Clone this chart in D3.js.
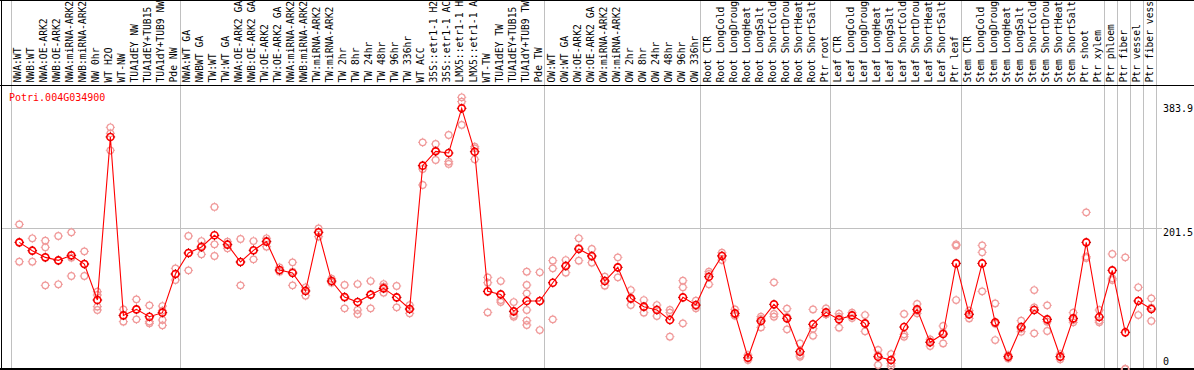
<!DOCTYPE html>
<html><head><meta charset="utf-8">
<script src="https://cdn.jsdelivr.net/npm/d3@7"></script>
<style>
html,body{margin:0;padding:0;background:#fff;overflow:hidden;}
svg{display:block;}
text{font-family:"DejaVu Sans Mono","Liberation Mono",monospace;font-size:10px;}
text.hdr{font-size:9.7px;}
</style></head><body>
<svg id="chart" width="1194" height="370"></svg>
<script>
const geneId = "Potri.004G034900";

// column labels as visible in the reference header (long ones are cut at the top edge there)
const categories = [
"NWA:WT","NWB:WT","NWA:OE-ARK2","NWB:OE-ARK2","NWA:miRNA-ARK2","NWB:miRNA-ARK2","NW 0hr","WT H2O","WT-NW","TUA1dEY NW",
"TUA1dEY+TUB15","TUA1dY+TUB9 NW","Pde NW","NWA:WT GA","NWBWT GA","TW:WT","TW:WT GA","NWA:OE-ARK2 GA","NWB:OE-ARK2 GA","TW:OE-ARK2",
"TW:OE-ARK2 GA","NWA:miRNA-ARK2","NWB:miRNA-ARK2","TW:miRNA-ARK2","TW:miRNA-ARK2","TW 2hr","TW 8hr","TW 24hr","TW 48hr","TW 96hr",
"TW 336hr","WT ACC","35S::etr1-1 H2","35S::etr1-1 AC","LMX5::etr1-1 H","LMX5::etr1-1 A","WT-TW","TUA1dEY TW","TUA1dEY+TUB15","TUA1dY+TUB9 TW",
"Pde TW","OW:WT","OW:WT GA","OW:OE-ARK2","OW:OE-ARK2 GA","OW:miRNA-ARK2","OW:miRNA-ARK2","OW 2hr","OW 8hr","OW 24hr",
"OW 48hr","OW 96hr","OW 336hr","Root CTR","Root LongCold","Root LongDroug","Root LongHeat","Root LongSalt","Root ShortCold","Root ShortDrou",
"Root ShortHeat","Root ShortSalt","Ptr root","Leaf CTR","Leaf LongCold","Leaf LongDroug","Leaf LongHeat","Leaf LongSalt","Leaf ShortCold","Leaf ShortDrou",
"Leaf ShortHeat","Leaf ShortSalt","Ptr leaf","Stem CTR","Stem LongCold","Stem LongDroug","Stem LongHeat","Stem LongSalt","Stem ShortCold","Stem ShortDrou",
"Stem ShortHeat","Stem ShortSalt","Ptr shoot","Ptr xylem","Ptr phloem","Ptr fiber","Ptr vessel","Ptr fiber vess"
];

const groupSizes = [13, 28, 12, 10, 10, 11, 1, 1, 1, 1];

const means = [
181.4,169.5,159.9,155.6,162.8,150.4,98.8,332.4,76.8,85.4,
74.9,80.7,136.1,166.2,174.8,191.5,178.1,153.3,170.0,182.4,
141.8,137.5,111.7,195.8,126.0,103.1,95.9,106.5,115.5,102.6,
85.9,291.3,311.8,309.4,373.4,311.3,111.2,106.9,82.6,97.4,
97.4,123.6,147.5,171.9,161.9,126.0,145.6,101.2,89.3,84.5,
70.2,102.6,91.6,132.2,161.9,79.7,16.2,68.8,92.6,72.5,
24.8,64.0,81.1,71.1,76.8,65.4,17.6,12.8,60.1,85.4,
38.2,50.1,151.3,78.3,151.3,66.8,17.6,60.1,84.5,71.1,
17.6,72.5,181.4,74.5,141.3,52.5,97.4,85.9
];

const replicates = [
[207.2,181.4,153.7],[187.2,169.5,153.7],[183.8,174.3,119.8],[190.5,155.6,121.3],[195.8,159.5,133.2],
[168.5,150.4,133.2],[110.7,106.0,89.3,84.5],[346.2,337.6,313.3],[85.4,67.8,76.8],[99.8,71.1,85.4],
[91.2,65.4,67.8],[90.2,83.5,70.2,62.5],[144.2,127.5,136.1],[190.5,141.3,166.2],[183.3,164.2,176.2],
[232.1,178.6,161.9],[182.4,172.8,179.0],[186.2,119.8,153.3],[183.3,157.1,169.5],[187.2,175.2,183.8],
[145.6,139.4,140.8],[152.8,119.8,139.4],[117.0,105.0,113.1],[201.5,195.8,189.6],[129.4,123.6,125.1],
[120.3,86.9,102.2],[121.7,84.5,78.8],[126.0,86.9,106.5],[121.7,117.9,109.3],[118.9,88.3,102.6],
[91.6,79.7,85.9],[324.7,263.6,286.5],[322.3,299.4,312.8],[335.2,297.0,293.7],[389.2,383.0,349.6],
[318.5,316.1,300.4],[131.3,123.6,81.1],[126.0,98.8,95.9],[95.9,77.3,74.9],[139.4,120.3,108.4,84.5,69.2,63.0],
[138.5,55.8,97.4],[155.2,144.2,71.1],[156.1,138.0,148.5],[187.2,155.2,173.3],[171.9,152.3,160.9],
[132.2,119.4,126.0],[159.9,131.3,145.6],[113.1,91.6,99.8],[98.8,80.7,88.3],[91.6,75.9,85.4],
[84.5,80.7,46.3],[126.5,117.0,65.4],[97.9,90.2,86.9],[139.4,121.3,136.1],[166.6,156.1,162.8],
[85.4,76.4,77.3],[20.0,12.8,15.7],[74.9,59.6,71.6],[124.1,78.8,74.9],[86.4,56.8,74.5],
[36.7,20.0,17.6],[85.4,57.7,47.7],[86.9,78.3,78.3],[74.9,59.2,79.2],[80.7,73.0,76.8],
[77.3,53.9,64.9],[27.2,5.7,20.0],[21.4,8.1,4.2],[78.8,49.6,46.3],[93.1,79.7,83.5],
[42.5,32.9,39.1],[61.6,36.7,52.0],[178.6,98.8,176.7],[83.5,72.5,78.8],[177.1,167.1,111.2],
[94.0,41.5,64.9],[20.0,15.2,17.6],[69.2,53.4,57.7],[113.1,88.3,51.1],[91.2,54.4,67.8],
[21.4,13.8,17.6],[80.7,66.8,70.2],[224.4,160.9,159.0],[84.5,69.2,66.8],[164.7,129.9,127.5],
[159.9,0,0],[117.0,77.3,97.9],[101.2,68.8,87.8]
];

const tickValues = [0, 201.5, 383.9];
const tickLabels = ["0", "201.5", "383.9"];
const axisMax = 383.9 * 1.05;

// ---------- layout ----------
const W = 1194, H = 370;
const headerBottom = 85.5;
const plotBottom = 369;
const plotTop = 87.6;
const labelX = 1163;
const repColor = "#f09a9a";
const meanColor = "#ff0000";

const svg = d3.select("#chart");

const x = d3.scaleLinear().domain([0, categories.length - 1]).range([19.3, 1151.3]);
const y = d3.scaleLinear().domain([0, axisMax]).range([plotBottom, plotTop]);

// group separators (after last column of each group, plus one before first)
const bounds = [-1];
let acc = -1;
groupSizes.forEach(s => { acc += s; bounds.push(acc); });

svg.append("g").selectAll("line.sep").data(bounds).join("line")
  .attr("x1", d => Math.round(x(d) + 4.4) + 0.5)
  .attr("x2", d => Math.round(x(d) + 4.4) + 0.5)
  .attr("y1", 0).attr("y2", plotBottom)
  .attr("stroke", "#c0c0c0").attr("stroke-width", 1);

// horizontal mid grid line
svg.append("line")
  .attr("x1", 1).attr("x2", labelX - 1)
  .attr("y1", Math.round(y(tickValues[1])) + 0.5).attr("y2", Math.round(y(tickValues[1])) + 0.5)
  .attr("stroke", "#c0c0c0").attr("stroke-width", 1);

// frame lines
svg.append("line").attr("x1", 0).attr("x2", W).attr("y1", 0.5).attr("y2", 0.5).attr("stroke", "#000");
svg.append("line").attr("x1", 0).attr("x2", W).attr("y1", headerBottom).attr("y2", headerBottom).attr("stroke", "#000");
svg.append("line").attr("x1", 0).attr("x2", W).attr("y1", plotBottom).attr("y2", plotBottom).attr("stroke", "#000").attr("stroke-width", 2);
svg.append("line").attr("x1", 1.5).attr("x2", 1.5).attr("y1", 0).attr("y2", H).attr("stroke", "#000");

// header labels
svg.append("g").selectAll("text").data(categories).join("text")
  .attr("class", "hdr")
  .attr("transform", (d, i) => `translate(${x(i) + 1.8},82.5) rotate(-90)`)
  .attr("fill", "#000")
  .text(d => d);

// y tick labels
const tickDy = [-4, 7.5, 10.5];
svg.append("g").selectAll("text").data(tickValues).join("text")
  .attr("x", labelX)
  .attr("y", (d, i) => y(d) + tickDy[i])
  .attr("fill", "#000")
  .text((d, i) => tickLabels[i]);

// gene title
svg.append("text").attr("x", 9).attr("y", 101).attr("fill", "#ff0000").text(geneId);

// marker helper
function nubPath(r, n) {
  return `M0,${-r - n}V${-r}M0,${r}V${r + n}M${-r - n},0H${-r}M${r},0H${r + n}`;
}

// replicate markers
const repData = [];
replicates.forEach((arr, i) => arr.forEach(v => repData.push({ i, v })));
const repG = svg.append("g").selectAll("g").data(repData).join("g")
  .attr("transform", d => `translate(${x(d.i)},${y(d.v)})`);
repG.append("circle").attr("r", 3.3).attr("fill", "none").attr("stroke", repColor).attr("stroke-width", 1.2);
repG.append("path").attr("d", nubPath(3.3, 1.3)).attr("stroke", repColor).attr("stroke-width", 1);

// mean line
const line = d3.line().x((d, i) => x(i)).y(d => y(d));
svg.append("path").datum(means).attr("d", line)
  .attr("fill", "none").attr("stroke", meanColor).attr("stroke-width", 1.1);

// mean markers
const mG = svg.append("g").selectAll("g").data(means).join("g")
  .attr("transform", (d, i) => `translate(${x(i)},${y(d)})`);
mG.append("circle").attr("r", 3.5).attr("fill", "none").attr("stroke", meanColor).attr("stroke-width", 1.6);
mG.append("path").attr("d", nubPath(3.5, 1.3)).attr("stroke", "#b00000").attr("stroke-width", 1);
</script>
</body></html>
